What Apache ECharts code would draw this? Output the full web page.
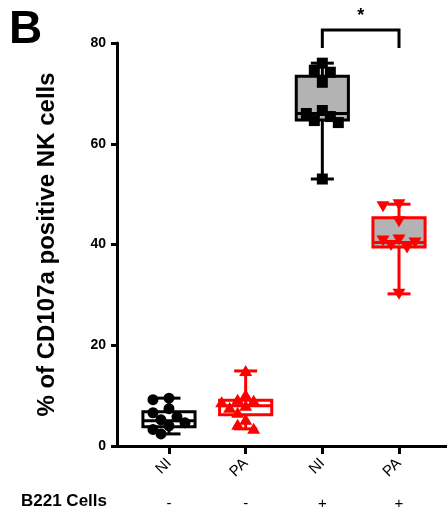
<!DOCTYPE html>
<html>
<head>
<meta charset="utf-8">
<script src="https://cdn.jsdelivr.net/npm/echarts@6/dist/echarts.min.js"></script>
<style>
html,body{margin:0;padding:0;background:#fff;}
#chart{width:447px;height:513px;}
</style>
</head>
<body>
<div id="chart"></div>
<script>
// ---- data ----
const categories = ['NI', 'PA', 'NI', 'PA'];
const b221Signs = ['-', '-', '+', '+'];
const groupPos = [1, 2, 3, 4];
const yTicks = [0, 20, 40, 60, 80];

const pointsNI_minus = [9.5, 9.2, 7.4, 6.6, 5.8, 5.2, 4.6, 4.0, 3.3, 2.4];
const pointsPA_minus = [14.9, 10.1, 9.2, 9.0, 8.7, 8.0, 7.6, 6.6, 5.2, 4.2, 3.4];
const pointsNI_plus  = [76.0, 74.6, 74.2, 72.2, 66.6, 66.0, 65.4, 64.6, 64.2, 53.0];
const pointsPA_plus  = [48.0, 47.6, 44.6, 41.0, 40.8, 40.4, 39.9, 39.4, 30.2];

const boxMin = [2.4, 3.4, 53.0, 30.2];
const boxQ1  = [3.8, 6.2, 64.7, 39.5];
const boxMed = [5.0, 8.0, 66.0, 40.4];
const boxQ3  = [6.8, 9.1, 73.4, 45.3];
const boxMax = [9.5, 14.9, 76.0, 48.0];

const sigPair = [3, 4];
const sigBarY = 82.6;
const sigLegY = 79.0;
const sigStarY = 85.3;
const sigLabel = '*';

// ---- styles ----
const groupColors = ['#000000', '#ff0000', '#000000', '#ff0000'];
const groupFills = ['#ffffff', '#ffffff', '#b3b3b3', '#b3b3b3'];
const groupSymbols = ['circle', 'triangle', 'square', 'invTriangle'];
const allPoints = [pointsNI_minus, pointsPA_minus, pointsNI_plus, pointsPA_plus];
const FONT = '"Liberation Sans", Arial, Helvetica, sans-serif';

const chart = echarts.init(document.getElementById('chart'), null, {renderer: 'canvas'});

function symbolShape(kind, cx, cy, color) {
  if (kind === 'circle') {
    return {type: 'circle', shape: {cx: cx, cy: cy, r: 5.5}, style: {fill: color}};
  }
  if (kind === 'square') {
    return {type: 'rect', shape: {x: cx - 5.5, y: cy - 5.5, width: 11, height: 11}, style: {fill: color}};
  }
  if (kind === 'triangle') {
    return {type: 'polygon', shape: {points: [[cx, cy - 6], [cx + 6.5, cy + 5], [cx - 6.5, cy + 5]]}, style: {fill: color}};
  }
  return {type: 'polygon', shape: {points: [[cx, cy + 6], [cx + 6.5, cy - 5], [cx - 6.5, cy - 5]]}, style: {fill: color}};
}

const boxData = groupPos.map((p, i) => [p, boxMin[i], boxQ1[i], boxMed[i], boxQ3[i], boxMax[i], i]);
const pointData = groupPos.map((p, i) => [p, i]);

const option = {
  animation: false,
  backgroundColor: '#ffffff',
  grid: {left: 117, right: 0, top: 43, bottom: 67, containLabel: false},
  xAxis: [{
    type: 'value',
    min: 0.322,
    max: 4.626,
    axisLine: {show: true, onZero: false, lineStyle: {color: '#000', width: 3}},
    axisTick: {show: true, length: 8, lineStyle: {color: '#000', width: 3}, customValues: groupPos},
    axisLabel: {
      customValues: groupPos,
      rotate: 45,
      margin: 15,
      color: '#000',
      fontFamily: FONT,
      fontSize: 15,
      formatter: v => categories[Math.round(v) - 1] || ''
    },
    splitLine: {show: false}
  }, {
    type: 'value',
    position: 'bottom',
    offset: 46,
    min: 0.322,
    max: 4.626,
    axisLine: {show: false},
    axisTick: {show: false, customValues: groupPos},
    axisLabel: {
      customValues: groupPos,
      margin: 4,
      color: '#000',
      fontFamily: FONT,
      fontSize: 15,
      formatter: v => b221Signs[Math.round(v) - 1] || ''
    },
    splitLine: {show: false}
  }],
  yAxis: {
    type: 'value',
    min: 0,
    max: 80,
    interval: 20,
    name: '% of CD107a positive NK cells',
    nameLocation: 'middle',
    nameGap: 58,
    nameTextStyle: {fontFamily: FONT, fontSize: 24, fontWeight: 'bold', color: '#000'},
    axisLine: {show: true, lineStyle: {color: '#000', width: 3}},
    axisTick: {show: true, length: 6, lineStyle: {color: '#000', width: 3}},
    axisLabel: {color: '#000', fontFamily: FONT, fontSize: 14, fontWeight: 'bold', margin: 11,
      formatter: v => yTicks.indexOf(v) >= 0 ? String(v) : ''},
    splitLine: {show: false}
  },
  graphic: [
    {type: 'text', left: 9, top: 7, style: {text: 'B', font: 'bold 46px ' + FONT, fill: '#000'}},
    {type: 'text', left: 21, top: 493, style: {text: 'B221 Cells', font: 'bold 17px ' + FONT, fill: '#000'}}
  ],
  series: [{
    type: 'custom',
    clip: false,
    z: 2,
    data: boxData,
    renderItem: function (params, api) {
      const x = api.value(0), gi = api.value(6);
      const col = groupColors[gi], fill = groupFills[gi];
      const pMin = api.coord([x, api.value(1)]);
      const pQ1 = api.coord([x, api.value(2)]);
      const pMed = api.coord([x, api.value(3)]);
      const pQ3 = api.coord([x, api.value(4)]);
      const pMax = api.coord([x, api.value(5)]);
      const left = api.coord([x - 0.34, 0])[0];
      const right = api.coord([x + 0.34, 0])[0];
      const capL = api.coord([x - 0.15, 0])[0];
      const capR = api.coord([x + 0.15, 0])[0];
      const ls = {stroke: col, lineWidth: 3};
      return {type: 'group', children: [
        {type: 'line', shape: {x1: pMax[0], y1: pMax[1], x2: pQ3[0], y2: pQ3[1]}, style: ls},
        {type: 'line', shape: {x1: pQ1[0], y1: pQ1[1], x2: pMin[0], y2: pMin[1]}, style: ls},
        {type: 'line', shape: {x1: capL, y1: pMax[1], x2: capR, y2: pMax[1]}, style: ls},
        {type: 'line', shape: {x1: capL, y1: pMin[1], x2: capR, y2: pMin[1]}, style: ls},
        {type: 'rect', shape: {x: left, y: pQ3[1], width: right - left, height: pQ1[1] - pQ3[1]}, style: {fill: fill, stroke: col, lineWidth: 3}},
        {type: 'line', shape: {x1: left, y1: pMed[1], x2: right, y2: pMed[1]}, style: ls}
      ]};
    }
  }, {
    type: 'custom',
    clip: false,
    z: 3,
    data: pointData,
    renderItem: function (params, api) {
      const x = api.value(0), gi = api.value(1);
      const vals = allPoints[gi].slice().sort((a, b) => b - a);
      const step = 8, minD = 9;
      const placed = [];
      const children = [];
      vals.forEach(v => {
        const c = api.coord([x, v]);
        let chosen = 0;
        for (let k = 0; k < 12; k++) {
          const off = k === 0 ? 0 : (k % 2 === 1 ? -1 : 1) * Math.ceil(k / 2) * step;
          const ok = placed.every(p => Math.hypot(p[0] - (c[0] + off), p[1] - c[1]) >= minD);
          if (ok) { chosen = off; break; }
        }
        placed.push([c[0] + chosen, c[1]]);
        children.push(symbolShape(groupSymbols[gi], c[0] + chosen, c[1], groupColors[gi]));
      });
      return {type: 'group', children: children};
    }
  }, {
    type: 'custom',
    clip: false,
    z: 4,
    data: [[sigPair[0], sigPair[1], sigBarY, sigLegY, sigStarY]],
    renderItem: function (params, api) {
      const a = api.coord([api.value(0), api.value(2)]);
      const b = api.coord([api.value(1), api.value(2)]);
      const la = api.coord([api.value(0), api.value(3)]);
      const lb = api.coord([api.value(1), api.value(3)]);
      const st = api.coord([(api.value(0) + api.value(1)) / 2, api.value(4)]);
      return {type: 'group', children: [
        {type: 'polyline', shape: {points: [[la[0], la[1]], [a[0], a[1]], [b[0], b[1]], [lb[0], lb[1]]]}, style: {stroke: '#000', lineWidth: 3, fill: null}},
        {type: 'text', x: st[0], y: st[1], style: {text: sigLabel, font: 'bold 18px ' + FONT, fill: '#000', align: 'center', verticalAlign: 'middle'}}
      ]};
    }
  }]
};
chart.setOption(option);
</script>
</body>
</html>
